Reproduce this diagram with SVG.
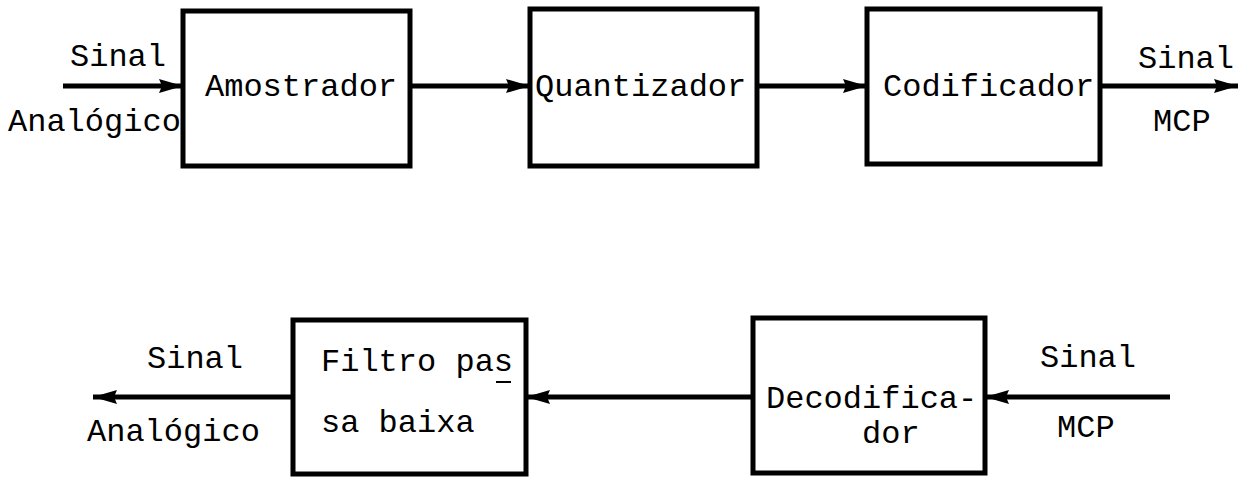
<svg xmlns="http://www.w3.org/2000/svg" width="1243" height="477" viewBox="0 0 1243 477">
<style>
.box{fill:none;stroke:#000;stroke-width:5}
.wire{stroke:#000;stroke-width:5;fill:none}
text{font-family:"Liberation Mono","Courier New",monospace;font-size:32px;fill:#000}
</style>
<defs>
<marker id="ah" markerUnits="userSpaceOnUse" markerWidth="26" markerHeight="16" refX="24" refY="8" orient="auto">
<path d="M0,1 L24,8 L0,15 L3,8 z" fill="#000"/>
</marker>
</defs>
<rect width="1243" height="477" fill="#fff"/>
<g id="connectors">
<line class="wire" x1="63" y1="86" x2="183" y2="86" marker-end="url(#ah)"/>
<line class="wire" x1="410" y1="86" x2="530" y2="86" marker-end="url(#ah)"/>
<line class="wire" x1="757" y1="86" x2="867" y2="86" marker-end="url(#ah)"/>
<line class="wire" x1="1100" y1="86" x2="1238" y2="86" marker-end="url(#ah)"/>
<line class="wire" x1="1170" y1="397" x2="985" y2="397" marker-end="url(#ah)"/>
<line class="wire" x1="753" y1="397" x2="526" y2="397" marker-end="url(#ah)"/>
<line class="wire" x1="293" y1="397" x2="93" y2="397" marker-end="url(#ah)"/>
</g>
<g id="amostrador">
<rect class="box" x="183" y="11" width="227" height="155"/>
<text x="205" y="96">Amostrador</text>
</g>
<g id="quantizador">
<rect class="box" x="530" y="9" width="227" height="157"/>
<text x="535" y="96">Quantizador</text>
</g>
<g id="codificador">
<rect class="box" x="867" y="9" width="233" height="155"/>
<text x="883" y="96">Codificador</text>
</g>
<g id="filtro">
<rect class="box" x="293" y="320" width="233" height="154"/>
<text x="321" y="371">Filtro pas</text>
<line x1="496" y1="382" x2="511" y2="382" stroke="#000" stroke-width="2"/>
<text x="321" y="432">sa baixa</text>
</g>
<g id="decodificador">
<rect class="box" x="753" y="318" width="232" height="155"/>
<text x="766" y="408">Decodifica-</text>
<text x="862" y="443">dor</text>
</g>
<g id="labels">
<text x="70" y="66">Sinal</text>
<text x="8" y="131">Analógico</text>
<text x="1138" y="68">Sinal</text>
<text x="1153" y="131">MCP</text>
<text x="147" y="368">Sinal</text>
<text x="87" y="441">Analógico</text>
<text x="1040" y="367">Sinal</text>
<text x="1057" y="437">MCP</text>
</g>
</svg>
